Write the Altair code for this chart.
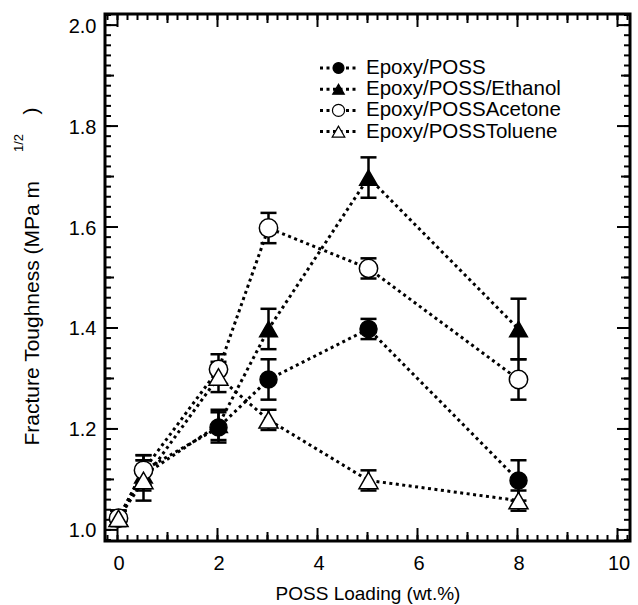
import altair as alt
import pandas as pd

# ---------------- data ----------------
loading = [0, 0.5, 2, 3, 5, 8]
series = ["Epoxy/POSS", "Epoxy/POSS/Ethanol", "Epoxy/POSSAcetone", "Epoxy/POSSToluene"]

epoxy = [1.025, 1.12, 1.205, 1.30, 1.40, 1.10]
epoxy_err = [0.015, 0.03, 0.03, 0.04, 0.02, 0.04]
ethanol = [1.025, 1.11, 1.21, 1.40, 1.70, 1.40]
ethanol_err = [0.015, 0.03, 0.03, 0.04, 0.04, 0.06]
acetone = [1.025, 1.12, 1.32, 1.60, 1.52, 1.30]
acetone_err = [0.015, 0.03, 0.03, 0.03, 0.02, 0.04]
toluene = [1.025, 1.10, 1.305, 1.22, 1.10, 1.06]
toluene_err = [0.015, 0.04, 0.03, 0.02, 0.02, 0.02]

x_major = [0, 2, 4, 6, 8, 10]
x_medium = [1, 3, 5, 7, 9]
x_minor = [round(-0.2 + 0.2 * i, 1) for i in range(53)]
y_major = [1.0, 1.2, 1.4, 1.6, 1.8, 2.0]
y_medium = [1.1, 1.3, 1.5, 1.7, 1.9]
y_minor = [round(0.98 + 0.02 * i, 2) for i in range(53)]

values = [epoxy, ethanol, acetone, toluene]
errors = [epoxy_err, ethanol_err, acetone_err, toluene_err]
rows = []
for s, v, e in zip(series, values, errors):
    for xx, vv, ee in zip(loading, v, e):
        rows.append({"series": s, "x": xx, "y": vv, "err": ee})
df = pd.DataFrame(rows)
legend_df = pd.DataFrame({"series": series, "idx": list(range(len(series)))})

# ---------------- style ----------------
FONT = "Liberation Sans"
W, H = 525, 527
xs = alt.Scale(domain=[-0.27, 10.23], nice=False, zero=False)
ys = alt.Scale(domain=[0.98, 2.024], nice=False, zero=False)
shape_scale = alt.Scale(domain=series, range=["circle", "triangle-up", "circle", "triangle-up"])
fill_scale = alt.Scale(domain=series, range=["black", "black", "white", "white"])

main_x = alt.Axis(orient="bottom", values=x_major, ticks=False, tickSize=0, domain=False,
                  grid=False, labelFont=FONT, labelFontSize=20, labelColor="black",
                  labelPadding=22, labelBaseline="middle", labelFlush=False,
                  labelOverlap=False, title="POSS Loading (wt.%)", titleFont=FONT,
                  titleFontSize=19, titleFontWeight="normal", titleColor="black",
                  titleY=52, titleBaseline="middle")
main_y = alt.Axis(orient="left", values=y_major, format=".1f", ticks=False, tickSize=0,
                  domain=False, grid=False, labelFont=FONT, labelFontSize=20,
                  labelColor="black", labelPadding=9, labelOverlap=False,
                  title="Fracture Toughness (MPa m",
                  titleFont=FONT, titleFontSize=21, titleFontWeight="normal",
                  titleColor="black", titleX=-73, titleY=431, titleAlign="left",
                  titleBaseline="middle", titleAngle=270)


def X(field):
    return alt.X(field, scale=xs, axis=main_x)


def Y(field):
    return alt.Y(field, scale=ys, axis=main_y)


# inward ticks on the four sides: each tick is centred on the frame and the
# outer half is clipped away
def y_tick_layers(vals, length):
    d = alt.Chart(pd.DataFrame({"v": vals}))
    out = []
    for xpos in (0, W):
        out.append(d.mark_tick(orient="horizontal", size=2 * length, thickness=2,
                               color="black", opacity=1, clip=True, yOffset=-1).encode(
            y=Y("v:Q"), x=alt.value(xpos)))
    return out


def x_tick_layers(vals, length):
    d = alt.Chart(pd.DataFrame({"v": vals}))
    out = []
    for ypos in (0, H):
        out.append(d.mark_tick(orient="vertical", size=2 * length, thickness=2,
                               color="black", opacity=1, clip=True, xOffset=-1).encode(
            x=X("v:Q"), y=alt.value(ypos)))
    return out


tick_layers = (y_tick_layers(y_minor, 6) + y_tick_layers(y_medium, 9) + y_tick_layers(y_major, 13)
               + x_tick_layers(x_minor, 6) + x_tick_layers(x_medium, 9) + x_tick_layers(x_major, 13))

base = alt.Chart(df).transform_calculate(
    lo="datum.y - datum.err", hi="datum.y + datum.err"
)

# error bars
stems = base.mark_rule(color="black", strokeWidth=2.5).encode(
    x=X("x:Q"), y=Y("lo:Q"), y2="hi:Q",
)
caps_hi = base.mark_rule(color="black", strokeWidth=2.5, xOffset=-8, x2Offset=8).encode(
    x=X("x:Q"), x2="x:Q", y=Y("hi:Q"),
)
caps_lo = base.mark_rule(color="black", strokeWidth=2.5, xOffset=-8, x2Offset=8).encode(
    x=X("x:Q"), x2="x:Q", y=Y("lo:Q"),
)
lines = alt.Chart(df).mark_line(color="black", strokeWidth=3, strokeDash=[3, 3.5]).encode(
    x=X("x:Q"), y=Y("y:Q"), detail="series:N", order="x:Q",
)
points = alt.Chart(df).mark_point(filled=True, stroke="black", strokeWidth=1.5, opacity=1).encode(
    x=X("x:Q"), y=Y("y:Q"),
    shape=alt.Shape("series:N", scale=shape_scale, legend=None),
    fill=alt.Fill("series:N", scale=fill_scale, legend=None),
    size=alt.Size("series:N", scale=alt.Scale(domain=series, range=[289, 361, 289, 361]), legend=None),
)

# custom legend (placed in data coordinates)
leg = alt.Chart(legend_df).transform_calculate(
    ly="1.917 - 0.042 * datum.idx", lx0="4.03", lx1="4.77", lxs="4.40", lxt="4.95"
)
leg_lines = leg.mark_rule(color="black", strokeWidth=3, strokeDash=[3, 3.5]).encode(
    x=X("lx0:Q"), x2="lx1:Q", y=Y("ly:Q"),
)
leg_pts = leg.mark_point(filled=True, stroke="black", strokeWidth=1.2, opacity=1).encode(
    x=X("lxs:Q"), y=Y("ly:Q"),
    shape=alt.Shape("series:N", scale=shape_scale, legend=None),
    fill=alt.Fill("series:N", scale=fill_scale, legend=None),
    size=alt.Size("series:N", scale=alt.Scale(domain=series, range=[120, 160, 120, 160]), legend=None),
)
leg_text = leg.mark_text(align="left", baseline="middle", font=FONT, fontSize=20.5, color="black").encode(
    x=X("lxt:Q"), y=Y("ly:Q"), text="series:N",
)

# superscript and closing parenthesis of the y title
sup = alt.Chart(pd.DataFrame({"t": ["1/2"]})).mark_text(
    angle=270, font=FONT, fontSize=13, color="black", align="center", baseline="middle"
).encode(x=alt.value(-86), y=alt.value(129), text="t:N")
paren = alt.Chart(pd.DataFrame({"t": [")"]})).mark_text(
    angle=270, font=FONT, fontSize=21, color="black", align="center", baseline="middle"
).encode(x=alt.value(-73), y=alt.value(97), text="t:N")

chart = alt.layer(
    *tick_layers,
    stems, caps_hi, caps_lo, lines, points, leg_lines, leg_pts, leg_text, sup, paren
).resolve_scale(size="independent").properties(
    width=W, height=H,
    autosize=alt.AutoSizeParams(type="none"),
    padding={"left": 105, "top": 14, "right": 8, "bottom": 64},
    background="white",
).configure_view(stroke="black", strokeWidth=3)

chart.save("out.html", embed_options={"renderer": "svg", "actions": False})
